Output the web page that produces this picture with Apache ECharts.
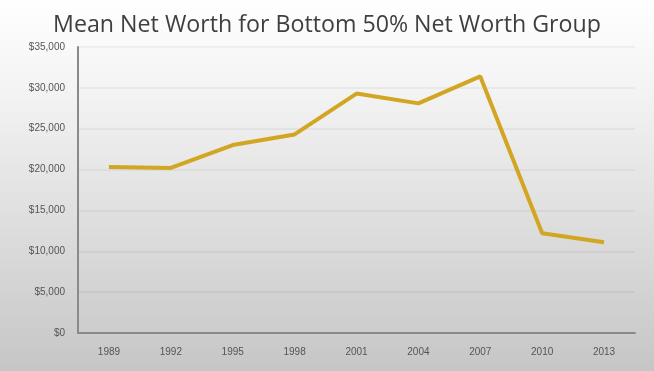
<!DOCTYPE html>
<html>
<head>
<meta charset="utf-8">
<script src="https://cdn.jsdelivr.net/npm/echarts@6/dist/echarts.min.js"></script>
<style>
html,body{margin:0;padding:0;}
#c{width:654px;height:371px;}
</style>
</head>
<body>
<div id="c"></div>
<script>
const years = ['1989','1992','1995','1998','2001','2004','2007','2010','2013'];
const meanNetWorth = [20300, 20200, 23000, 24300, 29300, 28100, 31400, 12200, 11100];
const yTicks = [0, 5000, 10000, 15000, 20000, 25000, 30000, 35000];

const chart = echarts.init(document.getElementById('c'));
chart.setOption({
  animation: false,
  backgroundColor: {
    type: 'linear', x: 0, y: 0, x2: 0, y2: 1,
    colorStops: [
      {offset: 0, color: '#ffffff'},
      {offset: 0.25, color: '#f3f3f3'},
      {offset: 1, color: '#c6c6c6'}
    ]
  },
  title: {
    text: 'Mean Net Worth for Bottom 50% Net Worth Group',
    left: 'center',
    top: 9,
    textStyle: {fontFamily: 'Open Sans', fontWeight: 'normal', fontSize: 23.2, color: '#3f3f3f'}
  },
  grid: {left: 78, right: 19, top: 47, bottom: 38},
  xAxis: {
    type: 'category',
    data: years,
    boundaryGap: true,
    axisLine: {lineStyle: {color: '#8a8a8a', width: 2}},
    axisTick: {show: false},
    axisLabel: {color: '#555555', fontSize: 10, margin: 14, fontFamily: 'Liberation Sans Narrow, Liberation Sans'}
  },
  yAxis: {
    type: 'value',
    min: yTicks[0],
    max: yTicks[yTicks.length - 1],
    interval: 5000,
    axisLine: {show: true, lineStyle: {color: '#8a8a8a', width: 2}},
    axisTick: {show: false},
    splitLine: {lineStyle: {color: 'rgba(0,0,0,0.06)', width: 1.5}},
    axisLabel: {
      color: '#555555', fontSize: 10, margin: 13,
      fontFamily: 'Liberation Sans Narrow, Liberation Sans',
      formatter: v => '$' + v.toLocaleString('en-US')
    }
  },
  series: [{
    type: 'line',
    data: meanNetWorth,
    symbol: 'none',
    lineStyle: {color: '#d2a622', width: 4},
    itemStyle: {color: '#d2a622'}
  }]
});
</script>
</body>
</html>
